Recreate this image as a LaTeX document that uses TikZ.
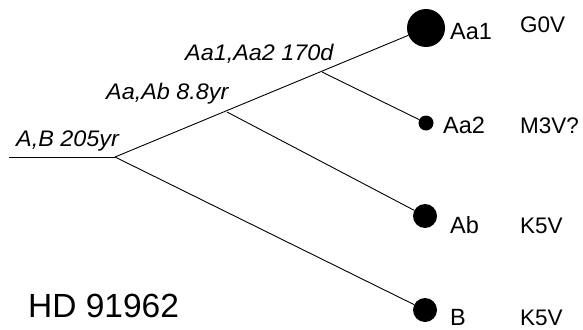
\documentclass[tikz,border=0pt]{standalone}
\usepackage{fontspec}
\setmainfont{Liberation Sans}
\begin{document}
\begin{tikzpicture}[x=1pt,y=-1pt,
  star/.style={circle,fill=black,inner sep=0pt},
  branch/.style={line width=0.9pt},
  orbit/.style={anchor=base west,inner sep=0pt,font=\fontsize{22.5}{26}\selectfont\itshape,xscale=1.04},
  comp/.style={anchor=base west,inner sep=0pt,text depth=0pt,font=\fontsize{23.5}{26}\selectfont},
  sptype/.style={anchor=base west,inner sep=0pt,text depth=0pt,font=\fontsize{22.5}{26}\selectfont}]
\useasboundingbox (0,0) rectangle (583,329);
% stars
\node[star,minimum size=38pt] (aa1) at (426,28) {};
\node[star,minimum size=15pt] (aa2) at (426,123) {};
\node[star,minimum size=24pt] (ab) at (425,216) {};
\node[star,minimum size=24pt] (b) at (425,310) {};
% junctions
\coordinate (left) at (9,157);
\coordinate (root) at (115,157);
\coordinate (jab) at (227,112);
\coordinate (jaa) at (322,72);
% branches
\draw[branch] (left) -- (root);
\draw[branch] (root) -- (aa1);
\draw[branch] (root) -- (b);
\draw[branch] (jab) -- (ab);
\draw[branch] (jaa) -- (aa2);
% orbit labels
\node[orbit] (lab1) at (16,146) {A,B 205yr};
\node[orbit] (lab2) at (106,99) {Aa,Ab 8.8yr};
\node[orbit] (lab3) at (185,60) {Aa1,Aa2 170d};
% component names
\node[comp] (naa1) at (450,40) {Aa1};
\node[comp] (naa2) at (443,133) {Aa2};
\node[comp] (nab) at (450,233) {Ab};
\node[comp] (nb) at (450,325) {B};
% spectral types
\node[sptype] (saa1) at (520,33) {G0V};
\node[sptype] (saa2) at (520,133) {M3V?};
\node[sptype] (sab) at (520,233) {K5V};
\node[sptype] (sb) at (520,325) {K5V};
% title
\node[anchor=base west,inner sep=0pt,font=\fontsize{33.5}{38}\selectfont] (title) at (28,317) {HD 91962};
\end{tikzpicture}
\end{document}
